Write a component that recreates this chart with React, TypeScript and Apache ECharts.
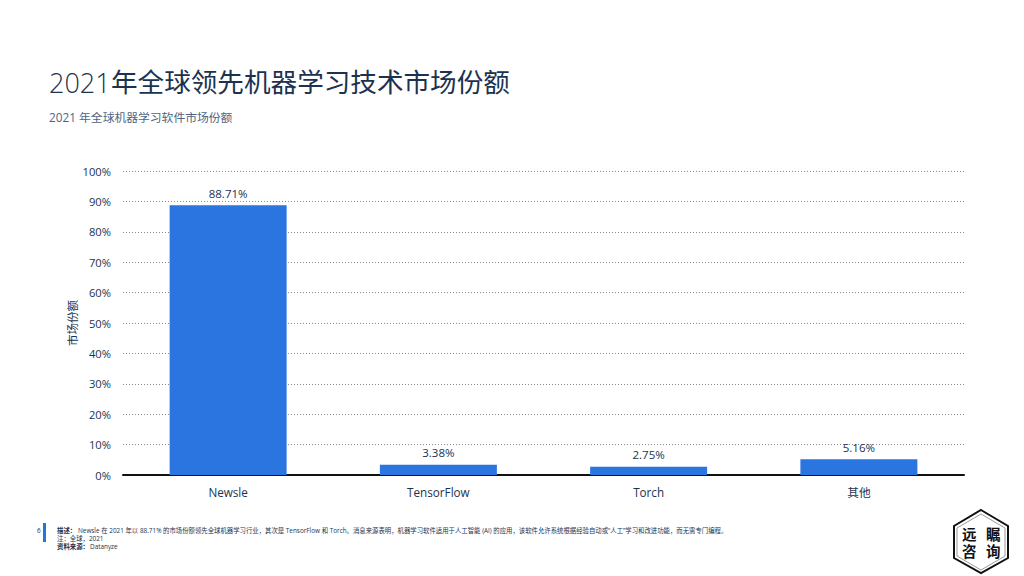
import React, { useEffect, useRef } from "react";
import * as echarts from "echarts";

const categories = ["Newsle", "TensorFlow", "Torch", "其他"];
const shares = [88.71, 3.38, 2.75, 5.16];
const titleYear = "2021";
const titleRest = "年全球领先机器学习技术市场份额";
const subtitle = "2021 年全球机器学习软件市场份额";
const yName = "市场份额";
const footerDesc = "Newsle 在 2021 年以 88.71% 的市场份额领先全球机器学习行业，其次是 TensorFlow 和 Torch。消息来源表明，机器学习软件适用于人工智能 (AI) 的应用，该软件允许系统根据经验自动或“人工”学习和改进功能，而无需专门编程。";

const FONT = '"Open Sans", "Noto Sans CJK SC", sans-serif';
const DARK = "#1b3350";

export default function App() {
  const ref = useRef<HTMLDivElement>(null);
  useEffect(() => {
    const chart = echarts.init(ref.current!, undefined, { renderer: "svg" });
    const small = (x: number, y: number, text: string, fontWeight: any = 400) => ({
      type: "text", x, y,
      style: { text, fontFamily: FONT, fontSize: 6.38, fontWeight, fill: DARK, textVerticalAlign: "middle" },
    });
    const logoChar = (x: number, y: number, text: string) => ({
      type: "text", x, y,
      style: { text, fontFamily: FONT, fontSize: 14.5, fontWeight: 700, fill: "#111111", textVerticalAlign: "middle" },
    });
    chart.setOption({
      animation: false,
      backgroundColor: "#ffffff",
      textStyle: { fontFamily: FONT },
      grid: { left: 123, right: 60, top: 171, bottom: 101, containLabel: false },
      xAxis: {
        type: "category",
        data: categories,
        axisLine: { show: true, lineStyle: { color: "#111111", width: 2 } },
        axisTick: { show: false },
        axisLabel: { color: DARK, fontSize: 11.7, margin: 11, fontFamily: FONT },
      },
      yAxis: {
        type: "value",
        min: 0,
        max: 100,
        interval: 10,
        name: yName,
        nameLocation: "middle",
        nameGap: 45,
        nameRotate: 90,
        nameMoveOverlap: false,
        nameTextStyle: { color: DARK, fontSize: 11.5, fontFamily: FONT },
        axisLine: { show: false },
        axisTick: { show: false },
        axisLabel: { color: DARK, fontSize: 11.2, margin: 12, formatter: "{value}%", fontFamily: FONT, padding: [0, 0, 2, 0] },
        splitLine: { lineStyle: { type: [1, 2], color: "#8a8a8a", width: 1 } },
      },
      series: [
        {
          type: "bar",
          data: shares,
          barWidth: 117,
          itemStyle: { color: "#2a75e0" },
          label: {
            show: true,
            position: "top",
            distance: 6,
            color: DARK,
            fontSize: 11.5,
            fontFamily: FONT,
            formatter: (p: any) => p.value.toFixed(2) + "%",
          },
        },
      ],
      graphic: [
        { type: "text", x: 49, y: 82, style: { text: titleYear, fontFamily: FONT, fontWeight: 300, fontSize: 27, fill: DARK, textVerticalAlign: "middle" } },
        { type: "text", x: 111, y: 82, style: { text: titleRest, fontFamily: FONT, fontSize: 26.6, fill: DARK, textVerticalAlign: "middle" } },
        { type: "text", x: 49, y: 117, style: { text: subtitle, fontFamily: FONT, fontSize: 11.8, fill: "#4f6582", textVerticalAlign: "middle" } },
        { type: "rect", shape: { x: 43, y: 523, width: 3, height: 19 }, style: { fill: "#1f78d8" } },
        small(37, 530.5, "6"),
        small(57, 530.5, "描述：", 700),
        small(78, 530.5, footerDesc),
        small(57, 538.5, "注：全球，2021"),
        small(57, 546, "资料来源：", 700),
        small(90, 546, "Datanyze"),
        { type: "polygon", shape: { points: [[981, 510], [1008, 526], [1008, 558], [981, 573], [954, 558], [954, 526]] }, style: { fill: "#ffffff", stroke: "#111111", lineWidth: 2 } },
        { type: "polygon", shape: { points: [[981, 514], [1005, 528], [1005, 556], [981, 570], [957, 556], [957, 528]] }, style: { fill: "#ffffff", stroke: "#555555", lineWidth: 0.6 } },
        logoChar(962, 534, "远"),
        logoChar(986, 534, "瞩"),
        logoChar(962, 551, "咨"),
        logoChar(986, 551, "询"),
      ],
    });
    return () => chart.dispose();
  }, []);
  return <div ref={ref} style={{ position: "absolute", left: 0, top: 0, width: 1024, height: 576 }} />;
}
